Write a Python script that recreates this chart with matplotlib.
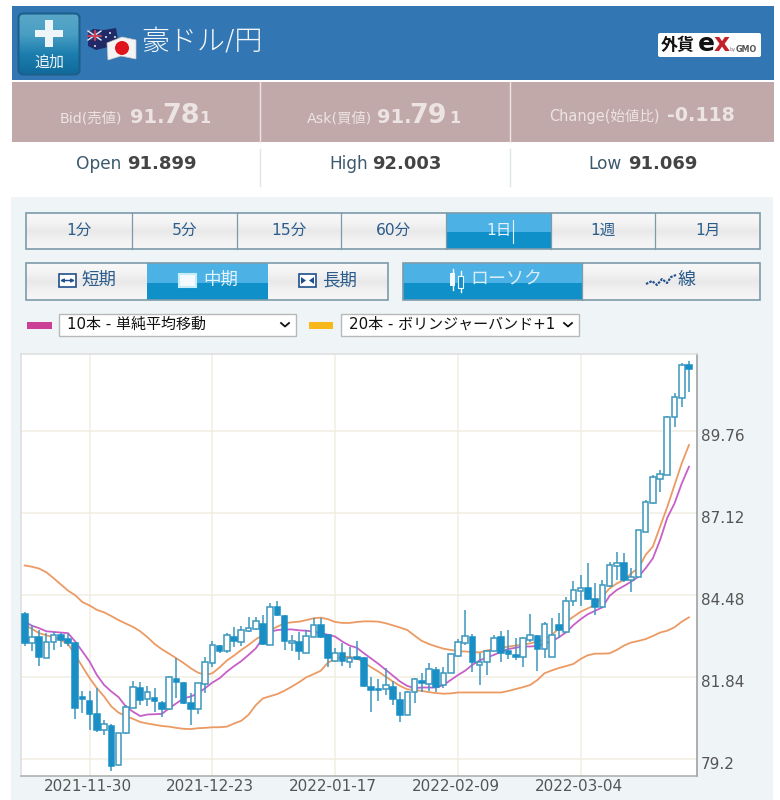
import numpy as np
import matplotlib

matplotlib.use("Agg")
import matplotlib.pyplot as plt
from matplotlib.patches import Circle, FancyBboxPatch, Polygon, Rectangle
from matplotlib.transforms import ScaledTranslation

plt.rcParams["font.family"] = ["DejaVu Sans", "Noto Sans CJK JP"]

# daily candles, AUD/JPY
opens = [83.87, 82.92, 83.12, 82.45, 82.97, 83.20, 83.05, 82.92, 81.19, 81.08, 80.64, 80.13, 80.26, 79.02, 80.03, 80.83,
         81.49, 81.12, 81.15, 80.99, 80.80, 81.77, 81.66, 80.99, 80.80, 81.61, 82.30, 82.85, 82.66, 83.12, 82.97, 83.33,
         83.37, 83.55, 82.88, 84.08, 83.81, 82.92, 82.96, 82.62, 83.12, 83.50, 83.18, 82.34, 82.60, 82.32, 82.47, 82.45,
         81.53, 81.46, 81.44, 81.53, 81.10, 80.61, 81.35, 81.72, 81.61, 82.07, 81.58, 81.98, 82.53, 82.92, 83.12, 82.23,
         82.33, 82.69, 83.12, 82.66, 82.55, 82.49, 83.03, 83.16, 82.73, 82.49, 83.50, 83.30, 84.27, 84.62, 84.70, 84.35,
         84.08, 84.77, 85.41, 85.52, 84.95, 85.07, 86.52, 87.45, 88.20, 88.35, 90.20, 90.82, 91.87]
closes = [82.92, 83.14, 82.49, 82.98, 83.18, 83.03, 82.92, 80.83, 81.12, 80.64, 80.12, 80.33, 78.97, 80.03, 80.86, 81.53,
          81.10, 81.34, 81.07, 80.82, 81.85, 81.68, 80.99, 80.80, 81.64, 82.33, 82.88, 82.69, 83.19, 83.00, 83.35, 83.42,
          83.65, 82.90, 84.08, 83.84, 83.01, 83.00, 82.66, 83.16, 83.50, 83.12, 82.45, 82.60, 82.34, 82.45, 82.43, 81.56,
          81.41, 81.42, 81.57, 81.13, 80.60, 81.37, 81.77, 81.64, 82.11, 81.51, 81.98, 82.57, 82.96, 83.16, 82.33, 82.33,
          82.69, 83.08, 82.60, 82.58, 82.49, 83.08, 83.19, 82.74, 83.55, 83.19, 83.35, 84.29, 84.64, 84.69, 84.35, 84.10,
          84.81, 85.45, 85.52, 84.96, 85.07, 86.56, 87.48, 88.27, 88.37, 90.22, 90.86, 91.87, 91.77]
highs = [83.94, 83.51, 83.35, 83.27, 83.30, 83.27, 83.22, 82.94, 81.40, 81.40, 81.48, 80.46, 80.33, 80.03, 80.94, 81.71,
         81.69, 81.56, 81.48, 81.05, 81.86, 82.44, 81.69, 81.31, 81.66, 82.49, 83.01, 82.87, 83.25, 83.46, 83.48, 83.76,
         83.78, 83.83, 84.21, 84.30, 83.83, 83.19, 83.30, 83.35, 83.73, 83.73, 83.19, 82.76, 82.92, 82.79, 82.99, 82.47,
         81.83, 81.76, 82.12, 81.72, 81.37, 81.40, 81.80, 81.98, 82.30, 82.15, 82.15, 82.58, 83.05, 84.00, 83.22, 82.60,
         82.71, 83.19, 83.33, 83.35, 83.08, 83.14, 83.86, 83.19, 83.62, 83.73, 83.89, 84.40, 84.94, 85.12, 85.52, 84.85,
         84.96, 85.55, 85.87, 85.82, 85.34, 86.57, 87.54, 88.34, 88.50, 90.24, 90.97, 91.94, 92.02]
lows = [82.84, 82.69, 82.19, 82.44, 82.71, 82.80, 82.84, 80.50, 80.69, 80.13, 80.08, 79.97, 78.82, 79.01, 80.01, 80.83,
        80.94, 80.89, 80.72, 80.54, 80.78, 81.15, 80.97, 80.30, 80.65, 81.31, 82.15, 82.62, 82.60, 82.82, 82.84, 83.30,
        83.35, 82.87, 82.86, 83.80, 82.71, 82.66, 82.37, 82.60, 83.12, 83.08, 82.15, 82.33, 82.19, 82.12, 82.39, 81.53,
        80.72, 81.05, 81.26, 80.94, 80.40, 80.60, 80.99, 81.37, 81.40, 81.34, 81.47, 81.96, 82.49, 82.87, 82.01, 81.58,
        81.90, 82.66, 82.33, 82.41, 82.39, 82.15, 82.98, 82.03, 82.44, 82.49, 83.08, 83.28, 84.12, 84.12, 84.32, 83.83,
        84.05, 84.75, 84.96, 84.91, 84.59, 85.05, 86.52, 87.41, 87.81, 88.35, 89.88, 90.52, 91.02]

sma10 = [83.62, 83.49, 83.41, 83.31, 83.29, 83.27, 83.25, 82.98, 82.66, 82.33, 81.90, 81.58, 81.37, 81.19, 80.89, 80.72,
         80.58, 80.63, 80.64, 80.65, 80.83, 80.99, 81.15, 81.21, 81.31, 81.48, 81.66, 81.80, 82.01, 82.19, 82.35, 82.55,
         82.76, 83.09, 83.30, 83.35, 83.37, 83.37, 83.34, 83.33, 83.30, 83.25, 83.20, 83.14, 82.98, 82.85, 82.78, 82.60,
         82.43, 82.26, 82.07, 81.88, 81.69, 81.55, 81.48, 81.50, 81.50, 81.50, 81.58, 81.74, 81.90, 82.04, 82.23, 82.37,
         82.47, 82.55, 82.66, 82.74, 82.78, 82.82, 82.82, 82.84, 82.92, 82.98, 83.12, 83.28, 83.51, 83.70, 83.86, 83.97,
         84.08, 84.45, 84.64, 84.77, 84.91, 85.07, 85.34, 85.66, 86.25, 86.97, 87.43, 88.07, 88.61]
band_upper = [85.43, 85.39, 85.33, 85.21, 85.02, 84.82, 84.62, 84.47, 84.25, 84.14, 84.00, 83.92, 83.80, 83.67, 83.56, 83.45,
              83.31, 83.12, 82.90, 82.73, 82.59, 82.44, 82.29, 82.12, 81.98, 81.90, 81.96, 82.15, 82.37, 82.53, 82.71, 82.87,
              83.05, 83.19, 83.35, 83.46, 83.57, 83.60, 83.62, 83.67, 83.73, 83.75, 83.70, 83.61, 83.58, 83.58, 83.61, 83.63,
              83.63, 83.62, 83.57, 83.50, 83.43, 83.35, 83.17, 83.00, 82.90, 82.82, 82.75, 82.71, 82.67, 82.66, 82.64, 82.63,
              82.69, 82.74, 82.78, 82.82, 82.85, 82.88, 82.92, 82.98, 83.05, 83.19, 83.41, 83.62, 83.78, 83.94, 84.05, 84.16,
              84.43, 84.69, 84.85, 84.96, 85.18, 85.34, 85.77, 86.04, 86.68, 87.32, 88.02, 88.72, 89.31]
band_lower = [83.51, 83.39, 83.25, 83.18, 83.12, 83.03, 82.90, 82.55, 82.17, 81.80, 81.48, 81.21, 80.89, 80.69, 80.58, 80.49,
              80.39, 80.34, 80.30, 80.26, 80.24, 80.20, 80.17, 80.16, 80.19, 80.20, 80.22, 80.22, 80.24, 80.34, 80.43, 80.62,
              80.93, 81.15, 81.22, 81.29, 81.40, 81.53, 81.67, 81.83, 81.93, 82.04, 82.30, 82.43, 82.48, 82.49, 82.44, 82.30,
              82.15, 82.01, 81.85, 81.69, 81.55, 81.44, 81.42, 81.39, 81.35, 81.32, 81.30, 81.31, 81.34, 81.34, 81.34, 81.34,
              81.34, 81.34, 81.34, 81.39, 81.45, 81.51, 81.58, 81.74, 81.96, 82.05, 82.13, 82.19, 82.26, 82.42, 82.54, 82.59,
              82.59, 82.60, 82.71, 82.85, 82.95, 83.00, 83.06, 83.16, 83.27, 83.33, 83.44, 83.62, 83.76]

date_positions = [9, 26, 43, 60, 77]
date_labels = ["2021-11-30", "2021-12-23", "2022-01-17", "2022-02-09", "2022-03-04"]
price_ticks = [79.2, 81.84, 84.48, 87.12, 89.76]
timeframes = ["1分", "5分", "15分", "60分", "1日", "1週", "1月"]
timeframe_edges = [26, 132, 237, 341, 446, 551, 655, 760]

W, H = 780, 800
BLUE_TOP, BLUE_BOTTOM = "#4cb2e6", "#0f90c9"
EDGE = "#7d9aa9"
BTN_TEXT = "#2b5c8c"
CANDLE = "#1a8fc6"


def px(size):
    return size * 0.72


def gradient(ui, x0, x1, y0, y1, stops, clip=None):
    colors = matplotlib.colors.to_rgba_array(stops)
    n = 60
    pos = np.linspace(0, 1, len(stops))
    img = np.stack([np.interp(np.linspace(0, 1, n), pos, colors[:, c]) for c in range(4)], axis=1)[:, None, :]
    im = ui.imshow(img, extent=(x0, x1, y1, y0), aspect="auto", zorder=1, interpolation="bilinear")
    if clip is not None:
        im.set_clip_path(clip)


def fill_button(ui, x0, x1, y0, y1, active):
    mid = (y0 + y1) / 2 + 1
    if active:
        ui.add_patch(Rectangle((x0, y0), x1 - x0, mid - y0, fc=BLUE_TOP, ec="none", zorder=2))
        ui.add_patch(Rectangle((x0, mid), x1 - x0, y1 - mid, fc=BLUE_BOTTOM, ec="none", zorder=2))
    else:
        gradient(ui, x0, x1, y0, y1, ["#f8f8f8", "#f4f4f4", "#e9e9e9", "#f2f2f2", "#f6f6f6"])


def draw_header(ui):
    ui.add_patch(Rectangle((11.5, 6), 762.5, 74, fc="#3276b3", ec="none"))
    ui.add_patch(Rectangle((11.5, 82), 762.5, 60, fc="#c2a9a9", ec="none"))
    for x in (260, 509.5):
        ui.plot([x, x], [82, 142], color="#ece4e4", lw=1)
        ui.plot([x, x], [149, 186], color="#dde6ea", lw=1)

    # add button
    box = FancyBboxPatch((18.5, 13.5), 61, 61, boxstyle="round,pad=0,rounding_size=5",
                         fc="none", ec="#1b5f8c", lw=1.5, zorder=3)
    ui.add_patch(box)
    gradient(ui, 18, 80, 13, 75, ["#5aa7c7", "#4a9fc4", "#1c7eae", "#10699b"], clip=box)
    ui.add_patch(Rectangle((45, 20), 8, 27, fc="#eef5f8", ec="none", zorder=4))
    ui.add_patch(Rectangle((35, 30), 28, 7, fc="#eef5f8", ec="none", zorder=4))
    ui.text(49, 62, "追加", color="#eef5f8", fontsize=px(15), ha="center", va="center", zorder=4)

    # flags
    ui.add_patch(Polygon([(88, 33), (93, 29), (104, 30), (116, 28), (118, 40), (112, 46), (96, 50), (88, 46)],
                         fc="#1f2a66", ec="none", zorder=3))
    ui.add_patch(Rectangle((88, 31), 13, 9, fc="#2a3778", ec="none", zorder=4))
    ui.plot([88, 101], [31, 40], color="#e8e8f0", lw=1, zorder=5)
    ui.plot([88, 101], [40, 31], color="#e8e8f0", lw=1, zorder=5)
    ui.plot([94.5, 94.5], [31, 40], color="#d0405a", lw=1.3, zorder=5)
    ui.plot([88, 101], [35.5, 35.5], color="#d0405a", lw=1.3, zorder=5)
    for x, y in [(110, 33), (115, 37), (106, 37), (95, 46)]:
        ui.add_patch(Circle((x, y), 1, fc="#e8e8f0", ec="none", zorder=4))
    ui.add_patch(Polygon([(107, 43), (122, 37), (136, 40), (136, 59), (121, 56), (108, 60)],
                         fc="#f4f4f4", ec="#c8c8c8", lw=0.5, zorder=5))
    ui.add_patch(Circle((122, 48), 7, fc="#e0141c", ec="none", zorder=6))
    ui.text(141, 41, "豪ドル/円", color="#f4f7fa", fontsize=px(28), ha="left", va="center", fontweight="light")

    # logo
    ui.add_patch(FancyBboxPatch((658, 33), 103, 24, boxstyle="round,pad=0,rounding_size=2", fc="white", ec="none"))
    ui.text(661, 45, "外貨", color="#111111", fontsize=px(17), fontweight="bold", ha="left", va="center")
    ui.text(698, 44, "e", color="#111111", fontsize=px(25), fontweight="bold", ha="left", va="center")
    ui.text(714, 44, "x", color="#c4202a", fontsize=px(25), fontweight="bold", ha="left", va="center")
    ui.text(730, 50, "by", color="#777777", fontsize=px(5), ha="left", va="center")
    ui.text(736, 50, "GMO", color="#555555", fontsize=px(8), fontweight="bold", ha="left", va="center")


def draw_quotes(ui):
    light = "#ece3e3"
    ui.text(60, 123, "Bid(売値)", color=light, fontsize=px(14.3), ha="left", va="baseline")
    ui.text(130, 123, "91.", color=light, fontsize=px(19.5), fontweight="bold", ha="left", va="baseline")
    ui.text(162, 123, "78", color=light, fontsize=px(27), fontweight="bold", ha="left", va="baseline")
    ui.text(199, 123, "1", color=light, fontsize=px(16), fontweight="bold", ha="left", va="baseline")

    ui.text(307, 123, "Ask(買値)", color=light, fontsize=px(14.3), ha="left", va="baseline")
    ui.text(377, 123, "91.", color=light, fontsize=px(19.5), fontweight="bold", ha="left", va="baseline")
    ui.text(409, 123, "79", color=light, fontsize=px(27), fontweight="bold", ha="left", va="baseline")
    ui.text(449, 123, "1", color=light, fontsize=px(16), fontweight="bold", ha="left", va="baseline")

    ui.text(549, 121, "Change(始値比)", color=light, fontsize=px(14.5), ha="left", va="baseline")
    ui.text(667, 121, "-0.118", color=light, fontsize=px(19), fontweight="bold", ha="left", va="baseline")

    for lx, name, vx, val in [(76, "Open", 127, "91.899"), (329, "High", 372, "92.003"), (588, "Low", 628, "91.069")]:
        ui.text(lx, 169, name, color="#3d5a6c", fontsize=px(17), ha="left", va="baseline")
        ui.text(vx, 169, val, color="#444444", fontsize=px(18), fontweight="bold", ha="left", va="baseline")


def draw_controls(ui):
    ui.add_patch(Rectangle((11, 197), 762, 603, fc="#eff5f7", ec="none", zorder=0))

    for i, label in enumerate(timeframes):
        x0, x1 = timeframe_edges[i], timeframe_edges[i + 1]
        active = label == "1日"
        fill_button(ui, x0, x1, 213, 249, active)
        ui.text((x0 + x1) / 2, 230.5, label, color="#e6f4fb" if active else BTN_TEXT, fontsize=px(15.5),
                ha="center", va="center", zorder=5)
    ui.plot([512.5, 512.5], [220, 243], color="#e6f4fb", lw=0.8, zorder=5)
    ui.add_patch(Rectangle((26, 213), 734, 36, fc="none", ec=EDGE, lw=1.2, zorder=6))
    for x in timeframe_edges[1:-1]:
        ui.plot([x, x], [213, 249], color=EDGE, lw=0.9, zorder=6)

    # period buttons
    for x0, x1, label, tx, active in [(26, 147, "短期", 81, False), (147, 268, "中期", 203, True),
                                      (268, 388, "長期", 322, False)]:
        fill_button(ui, x0, x1, 263, 300, active)
        ui.text(tx, 280, label, color="#e6f4fb" if active else BTN_TEXT, fontsize=px(17.5), ha="left", va="center", zorder=5)
    ui.add_patch(Rectangle((26, 263), 362, 37, fc="none", ec=EDGE, lw=1.2, zorder=6))
    navy = "#1f4f8c"
    ui.add_patch(Rectangle((59, 274), 17, 13, fc="white", ec=navy, lw=1.2, zorder=6))
    ui.annotate("", xy=(60, 280.5), xytext=(75, 280.5), zorder=7,
                arrowprops=dict(arrowstyle="<|-|>", color=navy, lw=1, mutation_scale=5, shrinkA=0, shrinkB=0))
    ui.add_patch(Rectangle((179, 274), 17, 13, fc="#f4fafd", ec="#c8ecf8", lw=1.5, zorder=6))
    ui.add_patch(Rectangle((299, 274), 17, 13, fc="white", ec=navy, lw=1.2, zorder=6))
    ui.add_patch(Polygon([(301, 277), (306, 280.5), (301, 284)], fc=navy, ec="none", zorder=7))
    ui.add_patch(Polygon([(314, 277), (309, 280.5), (314, 284)], fc=navy, ec="none", zorder=7))

    # chart type buttons
    fill_button(ui, 403, 582, 263, 300, True)
    fill_button(ui, 582, 760, 263, 300, False)
    ui.add_patch(Rectangle((403, 263), 357, 37, fc="none", ec=EDGE, lw=1.2, zorder=6))
    ui.plot([582, 582], [263, 300], color=EDGE, lw=0.9, zorder=6)
    ui.plot([452.5, 452.5], [269, 290], color="#f0f9fd", lw=1, zorder=6)
    ui.add_patch(Rectangle((450, 273), 5, 13, fc="#f0f9fd", ec="none", zorder=7))
    ui.plot([461, 461], [271, 292], color="#f0f9fd", lw=1, zorder=6)
    ui.add_patch(Rectangle((458, 276), 5, 12, fc=BLUE_BOTTOM, ec="#f0f9fd", lw=0.8, zorder=7))
    ui.text(470, 280, "ローソク", color="#d8eef9", fontsize=px(18), ha="left", va="center", zorder=7)
    ui.plot([646, 652, 657, 662, 667, 671, 676], [284, 281, 285, 279, 283, 277, 275], color=navy, lw=1.5, ls=(0, (1.2, 0.6)), zorder=7)
    ui.text(678, 280, "線", color=BTN_TEXT, fontsize=px(18), ha="left", va="center", zorder=7)

    # indicator selects
    ui.add_patch(Rectangle((27, 322), 25, 7, fc="#cc3f96", ec="none", zorder=3))
    ui.add_patch(Rectangle((309, 322), 24, 7, fc="#f8b81c", ec="none", zorder=3))
    for x0, x1, label in [(59, 296, "10本 - 単純平均移動"), (341, 579, "20本 - ボリンジャーバンド+1")]:
        ui.add_patch(Rectangle((x0, 313.5), x1 - x0, 22, fc="white", ec="#b8b8b8", lw=1, zorder=3))
        ui.text(x0 + 8, 324.5, label, color="#111111", fontsize=px(15), ha="left", va="center", zorder=4)
        ui.plot([x1 - 15, x1 - 11, x1 - 7], [323, 326.5, 323], color="#111111", lw=1.3, zorder=4)


def draw_chart(fig):
    left, right, top, bottom = 20.7, 696.7, 354, 776
    ax = fig.add_axes([left / W, 1 - bottom / H, (right - left) / W, (bottom - top) / H])
    ax.set_facecolor("white")
    ax.set_xlim(-0.554, 93.07)
    ax.set_ylim(78.65, 92.24)

    idx = np.arange(len(closes))
    o, c, hi, lo = map(np.array, (opens, closes, highs, lows))

    ax.plot(idx, band_upper, color="#ec9a63", lw=1.3, zorder=2)
    ax.plot(idx, band_lower, color="#ec9a63", lw=1.3, zorder=2)
    ax.plot(idx, sma10, color="#c75fc8", lw=1.3, zorder=2)

    ax.vlines(idx, lo, hi, color="#3c97bd", lw=1.1, zorder=3)
    up = c >= o
    ax.bar(idx[up], (c - o)[up], bottom=o[up], width=0.78, fc="white", ec="#3c97bd", lw=1.1, zorder=4)
    ax.bar(idx[~up], (o - c)[~up], bottom=c[~up], width=0.78, fc=CANDLE, ec=CANDLE, lw=1.1, zorder=4)

    ax.set_xticks(date_positions, date_labels)
    ax.set_yticks(price_ticks, [f"{t:g}" for t in price_ticks])
    ax.yaxis.tick_right()
    ax.tick_params(axis="both", length=0, labelsize=11, labelcolor="#555555")
    ax.tick_params(axis="x", pad=2)
    ax.tick_params(axis="y", pad=3)
    yshift = ScaledTranslation(0, -3 / 72, fig.dpi_scale_trans)
    for label in ax.get_yticklabels():
        label.set_transform(label.get_transform() + yshift)
    xshift = ScaledTranslation(-1.5 / 72, 0, fig.dpi_scale_trans)
    for label in ax.get_xticklabels():
        label.set_transform(label.get_transform() + xshift)
    ax.grid(True, color="#f0eee2", lw=1.1, zorder=1)
    ax.set_axisbelow(True)
    for side, color in [("top", "#dddddd"), ("left", "#dddddd"), ("right", "#999999"), ("bottom", "#aaaaaa")]:
        ax.spines[side].set_color(color)
        ax.spines[side].set_linewidth(1.1)
    return ax


def main():
    fig = plt.figure(figsize=(W / 100, H / 100), dpi=100, facecolor="white")
    ui = fig.add_axes([0, 0, 1, 1])
    draw_controls(ui)
    draw_header(ui)
    draw_quotes(ui)
    ui.set_xlim(0, W)
    ui.set_ylim(H, 0)
    ui.axis("off")
    draw_chart(fig)
    fig.savefig("out.png", dpi=100)


if __name__ == "__main__":
    main()
